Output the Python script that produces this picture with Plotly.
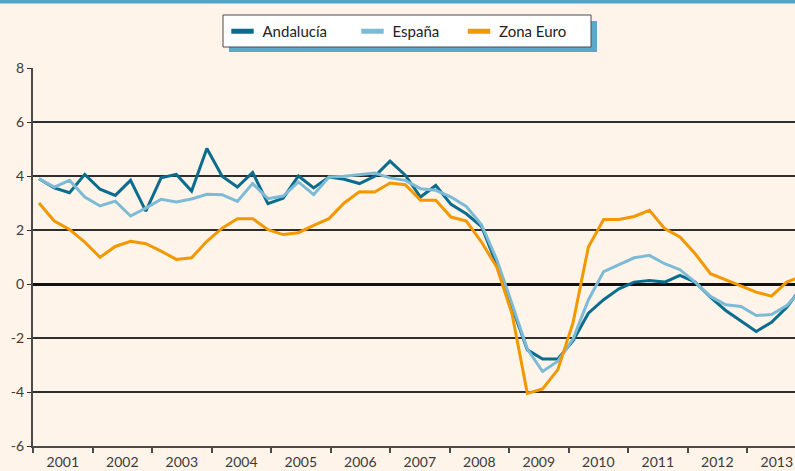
import plotly.graph_objects as go

# ---- data (quarterly, 2001 T1 onwards) ----
years = [str(y) for y in range(2001, 2014)]
quarters = [f"{y}T{q}" for y in range(2001, 2014) for q in range(1, 5)][:51]

y_ticks = [-6, -4, -2, 0, 2, 4, 6, 8]
y_tick_labels = ["-6", "-4", "-2", "0", "2", "4", "6", "8"]

andalucia = [3.90, 3.56, 3.38, 4.06, 3.51, 3.28, 3.84, 2.70, 3.93, 4.06, 3.44,
             5.02, 3.99, 3.59, 4.13, 2.98, 3.18, 4.00, 3.56, 3.96, 3.88, 3.72,
             3.99, 4.55, 4.03, 3.22, 3.65, 2.95, 2.60, 2.13, 0.70, -0.86,
             -2.44, -2.78, -2.78, -2.10, -1.08, -0.58, -0.18, 0.07, 0.13, 0.07,
             0.32, 0.07, -0.49, -0.98, -1.38, -1.76, -1.42, -0.86, -0.10]

espana = [3.90, 3.59, 3.84, 3.22, 2.89, 3.07, 2.52, 2.81, 3.14, 3.04, 3.15,
          3.32, 3.31, 3.06, 3.72, 3.16, 3.26, 3.78, 3.31, 3.96, 3.99, 4.04,
          4.11, 3.93, 3.84, 3.53, 3.47, 3.22, 2.87, 2.19, 0.90, -0.74,
          -2.41, -3.24, -2.86, -2.03, -0.59, 0.46, 0.72, 0.97, 1.06, 0.75,
          0.53, 0.07, -0.46, -0.77, -0.83, -1.17, -1.13, -0.80, -0.20]

zona_euro = [3.00, 2.33, 2.02, 1.55, 0.99, 1.39, 1.58, 1.49, 1.22, 0.91, 0.97,
             1.58, 2.07, 2.42, 2.42, 2.01, 1.83, 1.90, 2.17, 2.42, 3.00, 3.42,
             3.41, 3.74, 3.68, 3.10, 3.10, 2.48, 2.33, 1.55, 0.62, -1.11,
             -4.05, -3.89, -3.17, -1.42, 1.37, 2.39, 2.39, 2.50, 2.73, 2.05,
             1.74, 1.12, 0.38, 0.16, -0.06, -0.30, -0.45, 0.07, 0.30]

series = [("Andalucía", andalucia, "#0b6d8e"),
          ("España", espana, "#7dbad6"),
          ("Zona Euro", zona_euro, "#f39800")]

x_idx = list(range(len(quarters)))

# axis geometry (in quarter-index units)
x_start = -0.393          # left axis position
year_span = 3.899         # width of one year label band
x_end = 49.54

BG = "#fef4ea"
FONT = "Lato"

# plot-area geometry in pixels (for paper-coordinate conversions)
PL, PW, PB, PH = 33, 762, 446, 378
def px(xp):
    return (xp - PL) / PW
def py(yp):
    return (PB - yp) / PH

fig = go.Figure()
for name, vals, col in series:
    fig.add_trace(go.Scatter(x=x_idx, y=vals, mode="lines", name=name,
                             line=dict(color=col, width=3), showlegend=False,
                             customdata=quarters,
                             hovertemplate="%{customdata}: %{y}<extra>" + name + "</extra>"))

# legend entries (short thick swatches), one legend each for exact spacing
legend_ids = ["legend", "legend2", "legend3"]
legend_left = [222.5, 352.5, 459]
for (name, vals, col), lid in zip(series, legend_ids):
    fig.add_trace(go.Scatter(x=[None], y=[None], mode="markers", name=name,
                             marker=dict(symbol="line-ew", size=16,
                                         line=dict(width=5, color=col)),
                             showlegend=True, legend=lid))

bounds = [x_start + year_span * k for k in range(len(years) + 1)]
centers = [x_start + year_span * (k + 0.5) for k in range(len(years))]

legend_style = dict(orientation="h", xanchor="left", y=py(15), yanchor="top",
                    bgcolor="rgba(0,0,0,0)", borderwidth=0,
                    font=dict(family=FONT, size=15, color="#222"))
legends = {lid: dict(legend_style, x=px(xl))
           for lid, xl in zip(legend_ids, legend_left)}

fig.update_layout(
    width=795, height=471,
    margin=dict(l=33, r=0, t=68, b=25, autoexpand=False),
    paper_bgcolor=BG, plot_bgcolor=BG,
    font=dict(family=FONT, size=14, color="#3a3a3a"),
    **legends,
    xaxis=dict(range=[x_start, x_end], showgrid=False, zeroline=False,
               tickmode="array", tickvals=centers, ticktext=years,
               ticks="outside", ticklen=2, tickcolor="rgba(0,0,0,0)",
               showline=True, linecolor="#4a4a4a", linewidth=2,
               minor=dict(tickmode="array", tickvals=bounds, ticks="outside",
                          ticklen=5, tickcolor="#4a4a4a", tickwidth=1.5,
                          showgrid=False),
               tickfont=dict(size=14, color="#3a3a3a")),
    yaxis=dict(range=[-6, 8], tickmode="array", tickvals=y_ticks,
               ticktext=y_tick_labels, showgrid=True,
               gridcolor="#2e2e2e", gridwidth=1.6,
               zeroline=True, zerolinecolor="#111", zerolinewidth=3,
               showline=True, linecolor="#4a4a4a", linewidth=2,
               ticks="outside", ticklen=4, tickcolor="#2e2e2e",
               tickfont=dict(size=14, color="#3a3a3a")),
    shapes=[
        # top stripe
        dict(type="rect", xref="paper", yref="paper",
             x0=px(0), x1=1.0, y0=py(3.5), y1=py(0),
             fillcolor="#4fa6c8", line=dict(width=0), layer="above"),
        # legend shadow
        dict(type="rect", xref="paper", yref="paper",
             x0=px(229), x1=px(597), y0=py(52), y1=py(21),
             fillcolor="#5ba8c8", line=dict(width=0), layer="above"),
        # legend box
        dict(type="rect", xref="paper", yref="paper",
             x0=px(223), x1=px(591), y0=py(47), y1=py(15),
             fillcolor="white", line=dict(width=1, color="#4a4a4a"),
             layer="above"),
    ],
)

fig.write_html("out.html", config={"displayModeBar": False},
               post_script="document.body.style.margin='0';"
                           "document.body.style.background='" + BG + "';")
